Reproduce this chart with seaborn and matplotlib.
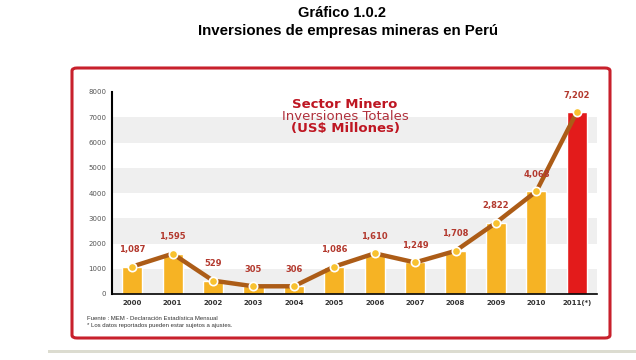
import pandas as pd
import matplotlib.pyplot as plt
import seaborn as sns
from matplotlib.patches import FancyBboxPatch, Rectangle

# Inversiones mineras (US$ millones)
years = ['2000', '2001', '2002', '2003', '2004', '2005', '2006', '2007', '2008', '2009', '2010', '2011(*)']
inversion = [1087, 1595, 529, 305, 306, 1086, 1610, 1249, 1708, 2822, 4068, 7202]
value_labels = ['1,087', '1,595', '529', '305', '306', '1,086', '1,610', '1,249', '1,708', '2,822', '4,068', '7,202']
bar_colors = ['#F6B324'] * 11 + ['#E31B1B']
y_ticks = [0, 1000, 2000, 3000, 4000, 5000, 6000, 7000, 8000]

df = pd.DataFrame({'Año': years, 'Inversion': inversion})
df['pos'] = range(len(df))

sns.set_style('white')
plt.rcParams['font.family'] = ['DejaVu Sans']

fig = plt.figure(figsize=(6.36, 3.6), dpi=100)
fig.patch.set_facecolor('white')

# Titles
fig.text(0.537, 0.965, 'Gráfico 1.0.2', ha='center', va='center', fontsize=10.5,
         fontweight='bold', family='Liberation Sans', color='black')
fig.text(0.547, 0.915, 'Inversiones de empresas mineras en Perú', ha='center', va='center',
         fontsize=10.8, fontweight='bold', family='Liberation Sans', color='black')

# Red rounded frame (behind the axes)
frame = FancyBboxPatch((72 / 636, 1 - 338 / 360), 538 / 636, 270 / 360,
                       boxstyle='round,pad=0,rounding_size=0.008', transform=fig.transFigure,
                       facecolor='none', edgecolor='#C8202C', linewidth=2.2, zorder=-1)
fig.patches.append(frame)

# Light strip at the bottom
fig.patches.append(Rectangle((48 / 636, 1 - 353 / 360), 588 / 636, 3 / 360,
                             transform=fig.transFigure, facecolor='#DCDCD0', edgecolor='none',
                             zorder=-1))

ax = fig.add_axes([112 / 636, 1 - 294 / 360, 485 / 636, 202 / 360])
ax.set_facecolor('none')

# Grey bands
for lo in [0, 2000, 4000, 6000]:
    ax.axhspan(lo, lo + 1000, color='#EFEFEF', zorder=0, lw=0)

sns.barplot(data=df, x='Año', y='Inversion', hue='Año', palette=bar_colors, legend=False,
            width=0.5, saturation=1, ax=ax, zorder=2)

# Trend line with markers on top of bars
ax.plot(df['pos'], df['Inversion'], color='#AC5C17', linewidth=3.2, zorder=3,
        solid_capstyle='round')
ax.plot(df['pos'], df['Inversion'], linestyle='none', marker='o', markersize=6,
        markerfacecolor='#F8C230', markeredgecolor='white', markeredgewidth=1.2, zorder=4)

for p, v, lab in zip(df['pos'], inversion, value_labels):
    ax.annotate(lab, (p, v), xytext=(0, 9), textcoords='offset points', ha='center',
                va='bottom', fontsize=6, fontweight='bold', color='#B3392E', zorder=5)

ax.set_xlim(-0.5, 11.5)
ax.set_ylim(0, 8000)
ax.set_yticks(y_ticks)
ax.set_yticklabels([str(t) for t in y_ticks], fontsize=5, color='#555555')
ax.set_xticks(df['pos'])
ax.set_xticklabels(years, fontsize=5, fontweight='bold', color='#333333')
ax.tick_params(axis='both', length=0, pad=4)
ax.set_xlabel('')
ax.set_ylabel('')
for s in ['top', 'right']:
    ax.spines[s].set_visible(False)
ax.spines['left'].set_color('black')
ax.spines['left'].set_linewidth(1.5)
ax.spines['bottom'].set_color('black')
ax.spines['bottom'].set_linewidth(1.2)

# In-chart heading
fig.text(345 / 636, 1 - 104 / 360, 'Sector Minero', ha='center', va='center', fontsize=9.5,
         fontweight='bold', color='#BE1622')
fig.text(345 / 636, 1 - 116 / 360, 'Inversiones Totales', ha='center', va='center', fontsize=9.5,
         color='#B0303C')
fig.text(345 / 636, 1 - 128 / 360, '(US$ Millones)', ha='center', va='center', fontsize=9.5,
         fontweight='bold', color='#BE1622')

# Footnotes
fig.text(87 / 636, 1 - 318 / 360, 'Fuente : MEM - Declaración Estadística Mensual', fontsize=4.3,
         color='#333333', va='center', family='Liberation Sans')
fig.text(87 / 636, 1 - 326 / 360, '* Los datos reportados pueden estar sujetos a ajustes.',
         fontsize=4.3, color='#333333', va='center', family='Liberation Sans')

fig.savefig('out.png', dpi=100)
